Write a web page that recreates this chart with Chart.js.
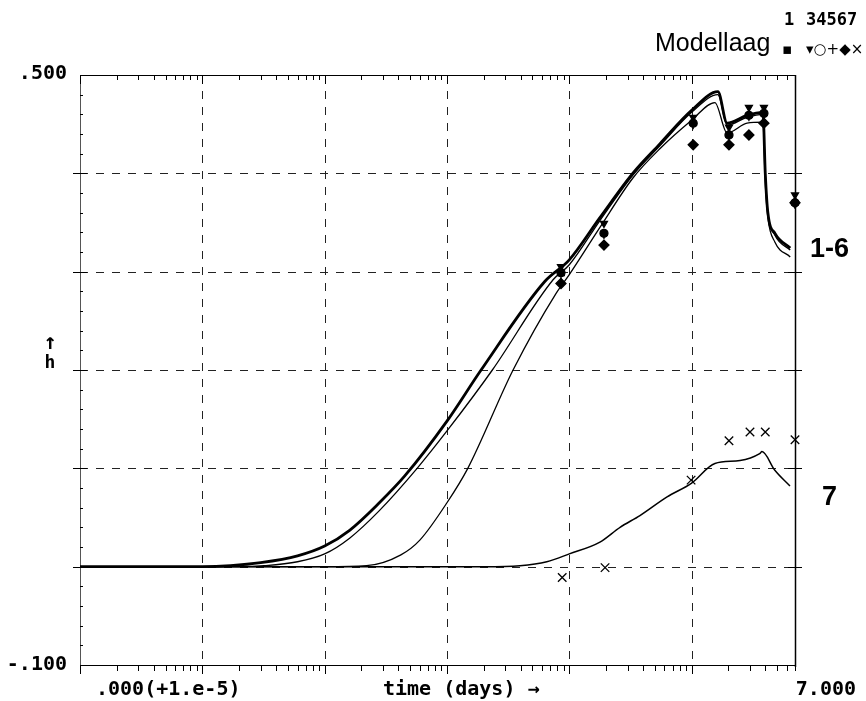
<!DOCTYPE html>
<html>
<head>
<meta charset="utf-8">
<script src="https://cdn.jsdelivr.net/npm/chart.js@4.4.0/dist/chart.umd.min.js"></script>
<style>
  body { margin: 0; background: #fff; }
  canvas { display: block; }
</style>
</head>
<body>
<canvas id="myChart" width="866" height="701"></canvas>
<script>
// computed heads (h) per model layer, time in days (log axis)
const tA = [1e-5, 1e-4, 1.7e-4, 3e-4, 6e-4, 1e-3, 1.6e-3, 2.8e-3, 4.5e-3, 1e-2, 0.019, 0.063, 0.1, 0.178, 0.33, 0.55, 1.0, 1.64, 1.95, 2.84, 3.83, 4.0, 4.2, 4.8, 6.4];
const hA = [0, 0, 0.001, 0.004, 0.011, 0.021, 0.037, 0.065, 0.092, 0.148, 0.2, 0.29, 0.312, 0.355, 0.40, 0.43, 0.464, 0.483, 0.451, 0.459, 0.462, 0.40, 0.36, 0.339, 0.324];

const tB = [1e-5, 2e-4, 3.2e-4, 6e-4, 1e-3, 1.6e-3, 2.8e-3, 5.7e-3, 1e-2, 0.0235, 0.074, 0.1, 0.178, 0.33, 0.55, 1.0, 1.64, 1.95, 2.84, 3.83, 4.0, 4.2, 4.8, 6.4];
const hB = [0, 0, 0.001, 0.005, 0.013, 0.029, 0.057, 0.1, 0.138, 0.2, 0.292, 0.307, 0.352, 0.398, 0.428, 0.462, 0.48, 0.449, 0.457, 0.46, 0.40, 0.36, 0.337, 0.322];

const tC = [1e-5, 1e-3, 2.2e-3, 4.2e-3, 6e-3, 1e-2, 0.0148, 0.0347, 0.078, 0.1, 0.178, 0.33, 0.55, 1.0, 1.55, 1.95, 2.84, 3.83, 4.0, 4.2, 4.8, 6.4];
const hC = [0, 0, 0.001, 0.012, 0.027, 0.065, 0.1, 0.2, 0.278, 0.297, 0.345, 0.395, 0.425, 0.454, 0.472, 0.441, 0.451, 0.452, 0.39, 0.355, 0.33, 0.315];

const t7 = [1e-5, 0.02, 0.0395, 0.0655, 0.1, 0.178, 0.26, 0.378, 0.63, 1.0, 1.55, 2.49, 3.6, 3.76, 4.79, 6.37];
const h7 = [0, 0, 0.001, 0.005, 0.013, 0.025, 0.04, 0.052, 0.071, 0.085, 0.105, 0.108, 0.115, 0.117, 0.098, 0.082];

// measured heads
const tObs = [0.0855, 0.192, 1.03, 2.02, 2.94, 3.9, 7.0];
const obs1 = [0.299, 0.339, 0.451, 0.439, 0.459, 0.461, 0.370];
const obs3 = [0.305, 0.349, 0.457, 0.447, 0.467, 0.467, 0.378];
const obs4 = [0.299, 0.339, 0.451, 0.439, 0.459, 0.461, 0.370];
const obs5 = [0.296, 0.337, 0.449, 0.437, 0.457, 0.459, 0.368];
const obs6 = [0.288, 0.327, 0.429, 0.429, 0.439, 0.451, 0.370];
const tObs7 = [0.0875, 0.196, 0.99, 2.02, 3.0, 4.0, 7.0];
const obs7 = [-0.011, -0.001, 0.088, 0.128, 0.137, 0.137, 0.129];

const xDecades = [1e-4, 1e-3, 1e-2, 1e-1, 1];
const yGrid = [0, 0.1, 0.2, 0.3, 0.4];

function pts(xs, ys) {
  return xs.map((x, i) => ({x: x, y: ys[i]}));
}

function curve(xs, ys, w) {
  return {data: pts(xs, ys), showLine: true, borderColor: "#000", borderWidth: w,
    pointRadius: 0, cubicInterpolationMode: "monotone"};
}

function marks(xs, ys, style, r, extra) {
  return Object.assign({
    data: pts(xs, ys), showLine: false, pointStyle: style, pointRadius: r,
    backgroundColor: "#000", borderColor: "#000", borderWidth: 1.3, clip: false
  }, extra || {});
}

const frame = {
  id: "frame",
  beforeDatasetsDraw(chart) {
    const ctx = chart.ctx, a = chart.chartArea;
    const xs = chart.scales.x, ys = chart.scales.y;
    ctx.save();
    // dashed grid
    ctx.strokeStyle = "#222";
    ctx.lineWidth = 1;
    ctx.setLineDash([8, 8]);
    xDecades.forEach(v => {
      const px = Math.round(xs.getPixelForValue(v)) + 0.5;
      ctx.beginPath(); ctx.moveTo(px, a.top); ctx.lineTo(px, a.bottom); ctx.stroke();
    });
    yGrid.forEach(v => {
      const py = Math.round(ys.getPixelForValue(v)) + 0.5;
      ctx.beginPath(); ctx.moveTo(a.left, py); ctx.lineTo(a.right + 6, py); ctx.stroke();
    });
    ctx.setLineDash([]);
    // frame
    ctx.strokeStyle = "#000";
    ctx.beginPath();
    ctx.moveTo(a.left + 0.5, a.top + 0.5); ctx.lineTo(a.right + 0.5, a.top + 0.5);
    ctx.moveTo(a.left + 0.5, a.bottom + 0.5); ctx.lineTo(a.right + 0.5, a.bottom + 0.5);
    ctx.stroke();
    ctx.strokeStyle = "#555";
    ctx.beginPath();
    ctx.moveTo(a.left + 0.5, a.top); ctx.lineTo(a.left + 0.5, a.bottom);
    ctx.stroke();
    ctx.strokeStyle = "#000";
    ctx.lineWidth = 1.5;
    ctx.beginPath();
    ctx.moveTo(a.right + 0.5, a.top); ctx.lineTo(a.right + 0.5, a.bottom + 2);
    ctx.stroke();
    ctx.lineWidth = 1;
    // log ticks top and bottom
    ctx.beginPath();
    for (let e = -5; e <= 0; e++) {
      for (let m = 1; m <= 9; m++) {
        const v = m * Math.pow(10, e);
        if (v < 1e-5 || v > 7) continue;
        const px = Math.round(xs.getPixelForValue(v)) + 0.5;
        const big = m === 1;
        ctx.moveTo(px, a.top); ctx.lineTo(px, a.top + (big ? 9 : 5));
        ctx.moveTo(px, a.bottom); ctx.lineTo(px, a.bottom + (big ? 9 : 6));
      }
    }
    // y ticks on both sides
    yGrid.forEach(v => {
      const py = Math.round(ys.getPixelForValue(v)) + 0.5;
      ctx.moveTo(a.left - 7, py); ctx.lineTo(a.left + 7, py);
      ctx.moveTo(a.right - 7, py); ctx.lineTo(a.right + 7, py);
    });
    for (let v = -0.08; v < 0.5; v += 0.02) {
      const py = Math.round(ys.getPixelForValue(v)) + 0.5;
      ctx.moveTo(a.left, py); ctx.lineTo(a.left + 3, py);
    }
    ctx.stroke();
    ctx.restore();
  },
  afterDraw(chart) {
    const ctx = chart.ctx, a = chart.chartArea;
    ctx.save();
    ctx.fillStyle = "#000";
    ctx.textBaseline = "middle";
    ctx.font = "bold 20px 'DejaVu Sans Mono'";
    ctx.textAlign = "right";
    ctx.fillText(".500", 67, a.top - 1);
    ctx.fillText("-.100", 67, a.bottom);
    ctx.fillText("7.000", 856, 690);
    ctx.textAlign = "left";
    ctx.fillText(".000(+1.e-5)", 96, 690);
    ctx.fillText("time (days) \u2192", 383, 690);
    ctx.textAlign = "center";
    ctx.font = "bold 22px 'DejaVu Sans Mono'";
    ctx.fillText("\u2191", 50, 343);
    ctx.font = "bold 18px 'DejaVu Sans Mono'";
    ctx.fillText("h", 50, 363);
    ctx.font = "25px 'Liberation Sans'";
    ctx.textAlign = "left";
    ctx.fillText("Modellaag", 655, 44);
    ctx.font = "bold 17px 'DejaVu Sans Mono'";
    ctx.fillText("1", 784, 21);
    ctx.fillText("34567", 806, 21);
    ctx.font = "15px 'DejaVu Sans'";
    ctx.fillText("\u25aa", 782, 50);
    ctx.fillText("\u25be\u25cb+\u25c6\u00d7", 806, 50);
    ctx.font = "bold 27px 'Liberation Sans'";
    ctx.fillText("1-6", 810, 250);
    ctx.fillText("7", 822, 498);
    ctx.restore();
  }
};

new Chart("myChart", {
  type: "scatter",
  data: {
    datasets: [
      curve(tA, hA, 2.8),
      curve(tB, hB, 1.3),
      curve(tC, hC, 1.3),
      curve(t7, h7, 1.5),
      marks(tObs, obs1, "rect", 3.5),
      marks(tObs, obs3, "triangle", 4, {rotation: 180}),
      marks(tObs, obs4, "circle", 4),
      marks(tObs, obs5, "cross", 4),
      marks(tObs, obs6, "rectRot", 5),
      marks(tObs7, obs7, "crossRot", 6, {backgroundColor: "rgba(0,0,0,0)"})
    ]
  },
  options: {
    responsive: false,
    animation: false,
    layout: {padding: {left: 80, right: 71, top: 75, bottom: 36}},
    plugins: {legend: {display: false}, tooltip: {enabled: false}},
    scales: {
      x: {type: "logarithmic", min: 1e-5, max: 7, display: false},
      y: {type: "linear", min: -0.1, max: 0.5, display: false}
    }
  },
  plugins: [frame]
});
</script>
</body>
</html>
